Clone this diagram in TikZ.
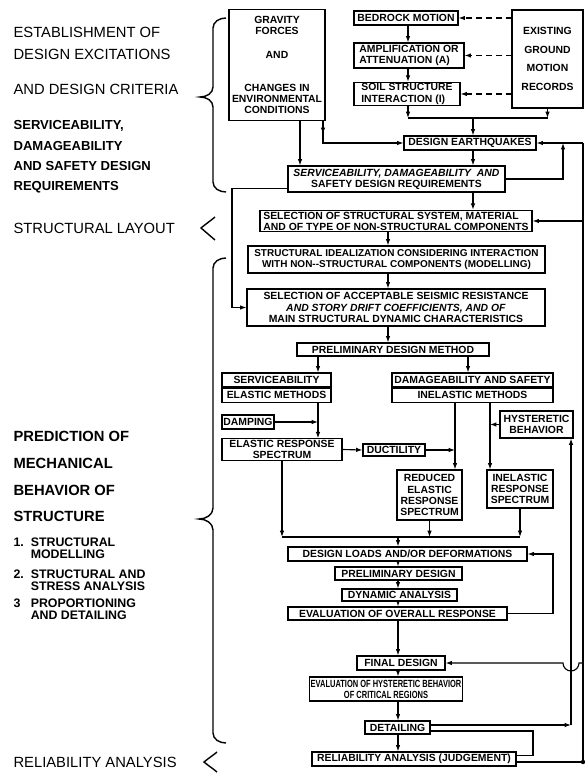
\documentclass[tikz,border=0pt]{standalone}
\usepackage{fontspec}
\newfontfamily\lettering{Liberation Sans}
\newfontfamily\narrowlettering{Liberation Sans}[FakeStretch=0.72]
\usetikzlibrary{positioning,arrows.meta}
\newdimen\px \px=0.025cm
\tikzset{wh/.style 2 args={minimum width=#1\px, minimum height=#2\px}}
\begin{document}
\begin{tikzpicture}[x=0.025cm, y=-0.025cm, line width=0.8pt, >={Latex[length=4.5pt,width=3.2pt]},
    box node/.style={draw, inner sep=1pt, align=center, font=\lettering\bfseries\fontsize{7.4}{7.9}\selectfont},
    side label/.style={anchor=west, inner sep=0pt, font=\lettering\fontsize{10.5}{12}\selectfont},
    req label/.style={side label, font=\lettering\bfseries\fontsize{9.3}{11}\selectfont},
    pred label/.style={side label, font=\lettering\bfseries\fontsize{10.5}{12}\selectfont},
    item label/.style={side label, align=left, font=\lettering\bfseries\fontsize{8.8}{8.5}\selectfont},
    brace/.style={line width=1pt},
    feed/.style={dash pattern=on 4pt off 3pt}]
\useasboundingbox (0,0) rectangle (584,774);

% left hand column
\node[side label] (est1) at (13,32) {ESTABLISHMENT OF};
\node[side label] (est2) at (13,54) {DESIGN EXCITATIONS};
\node[side label] (est3) at (13,89) {AND DESIGN CRITERIA};
\node[req label] (req1) at (13,126) {SERVICEABILITY,};
\node[req label] (req2) at (13,146) {DAMAGEABILITY};
\node[req label] (req3) at (13,166) {AND SAFETY DESIGN};
\node[req label] (req4) at (13,187) {REQUIREMENTS};
\node[side label] (lay) at (13,228) {STRUCTURAL LAYOUT};
\node[pred label] (pre1) at (13,436) {PREDICTION OF};
\node[pred label] (pre2) at (13,463) {MECHANICAL};
\node[pred label] (pre3) at (13,490) {BEHAVIOR OF};
\node[pred label] (pre4) at (13,516) {STRUCTURE};
\node[item label] (it1) at (13,548) {1.\ \ STRUCTURAL\\\hphantom{1.\ \ }MODELLING};
\node[item label] (it2) at (13,580) {2.\ \ STRUCTURAL AND\\\hphantom{2.\ \ }STRESS ANALYSIS};
\node[item label] (it3) at (13,609) {3\ \ \ PROPORTIONING\\\hphantom{3.\ \ }AND DETAILING};
\node[side label] (rlab) at (13,762) {RELIABILITY ANALYSIS};

\draw[brace] (226,18) to[out=180,in=90] (213,28) -- (213,87) to[out=-90,in=0] (200,97)
    to[out=0,in=90] (213,107) -- (213,182) to[out=-90,in=180] (226,192);
\draw[brace] (215,217) to[out=-140,in=40] (201,228) to[out=-40,in=140] (215,240);
\draw[brace] (226,258) to[out=180,in=90] (213,268) -- (213,508) to[out=-90,in=0] (199,519)
    to[out=0,in=90] (213,530) -- (213,733) to[out=-90,in=180] (226,743);
\draw[brace] (217,752) to[out=-140,in=40] (204,762) to[out=-40,in=140] (217,772);

% excitations
\node[box node, wh={96}{111}] (grav) at (277,65) {GRAVITY\\FORCES\\[9pt]AND\\[16pt]CHANGES IN\\ENVIRONMENTAL\\CONDITIONS};
\node[box node, wh={104}{14}] (bed) at (406,18) {BEDROCK MOTION};
\node[box node, wh={110}{25}, align=left] (amp) at (409,55.5) {AMPLIFICATION OR\\ATTENUATION (A)};
\node[box node, wh={106}{20}, align=left] (soil) at (407,94) {SOIL STRUCTURE\\INTERACTION (I)};
\node[box node, wh={71}{98}] (rec) at (547.5,59) {EXISTING\\[5.3pt]GROUND\\[5.3pt]MOTION\\[5.3pt]RECORDS};
\node[box node, wh={132}{14}] (deq) at (470,143) {DESIGN EARTHQUAKES};
\node[box node, wh={217}{26}] (sreq) at (396.5,179) {\textit{SERVICEABILITY, DAMAGEABILITY\ \ AND}\\SAFETY DESIGN REQUIREMENTS};

% layout
\node[box node, wh={272}{20}, align=left] (sys) at (396,221) {SELECTION OF STRUCTURAL SYSTEM, MATERIAL\\AND OF TYPE OF NON-STRUCTURAL COMPONENTS};
\node[box node, wh={297}{27}, font=\lettering\bfseries\fontsize{7.1}{7.9}\selectfont] (ideal) at (396.5,259.5) {STRUCTURAL IDEALIZATION CONSIDERING INTERACTION\\WITH NON--STRUCTURAL COMPONENTS (MODELLING)};
\node[box node, wh={298}{37}] (accept) at (396,307.5) {SELECTION OF ACCEPTABLE SEISMIC RESISTANCE\\\textit{AND STORY DRIFT COEFFICIENTS, AND OF}\\MAIN STRUCTURAL DYNAMIC CHARACTERISTICS};
\node[box node, wh={192}{13}] (pdm) at (393,349.5) {PRELIMINARY DESIGN METHOD};

% methods
\node[box node, wh={109}{14}] (serv) at (276.5,380) {SERVICEABILITY};
\node[box node, wh={109}{14}, below=0pt of serv] (elm) {ELASTIC METHODS};
\node[box node, wh={161}{14}] (dam) at (472.5,380) {DAMAGEABILITY AND SAFETY};
\node[box node, wh={161}{14}, below=0pt of dam] (inm) {INELASTIC METHODS};
\node[box node, wh={52}{14}] (damp) at (248,422) {DAMPING};
\node[box node, wh={73}{27}] (hyst) at (536.5,424.5) {HYSTERETIC\\BEHAVIOR};
\node[box node, wh={120}{21}] (ers) at (282,449.5) {ELASTIC RESPONSE\\SPECTRUM};
\node[box node, wh={62}{12}] (duct) at (394,450) {DUCTILITY};
\node[box node, wh={65}{50}] (red) at (429.5,495) {REDUCED\\ELASTIC\\RESPONSE\\SPECTRUM};
\node[box node, wh={66}{38}] (ine) at (520,489) {INELASTIC\\RESPONSE\\SPECTRUM};

% design
\node[box node, wh={239}{14}] (dl) at (407.5,554) {DESIGN LOADS AND/OR DEFORMATIONS};
\node[box node, wh={127}{13}] (pd) at (398.5,573.5) {PRELIMINARY DESIGN};
\node[box node, wh={115}{12}] (dyn) at (399.5,595) {DYNAMIC ANALYSIS};
\node[box node, wh={219}{13}] (ovr) at (397.5,613.5) {EVALUATION OF OVERALL RESPONSE};
\node[box node, wh={88}{14}] (fin) at (401,663) {FINAL DESIGN};
\node[box node, wh={148}{24}, font=\narrowlettering\bfseries\fontsize{7.4}{7.9}\selectfont] (evh) at (386,689) {EVALUATION OF HYSTERETIC BEHAVIOR\\OF CRITICAL REGIONS};
\node[box node, wh={65}{13}] (det) at (397.5,727.5) {DETAILING};
\node[box node, wh={204}{14}] (rel) at (414,759) {RELIABILITY ANALYSIS (JUDGEMENT)};

% line positions
\coordinate (kA) at (408,0);
\coordinate (sA) at (473,118);
\coordinate (sB) at (388,0);
\coordinate (sC) at (398,537);
\coordinate (gA) at (323,0);
\coordinate (gB) at (300,0);
\coordinate (lA) at (232,0);
\coordinate (hA) at (563,0);
\coordinate (rA) at (583,0);
\coordinate (cS) at (318,0);
\coordinate (cP) at (468,0);
\coordinate (cD) at (455,0);
\coordinate (cI) at (490,0);
\coordinate (fA) at (553,0);
\coordinate (vA) at (571,0);
\coordinate (dA) at (533,0);
\coordinate (dhi) at ([yshift=2.5\px]det.east);
\coordinate (dlo) at ([yshift=-3.5\px]det.east);
\coordinate (rhi) at ([yshift=3.5\px]rel.east);
\coordinate (rlo) at ([yshift=-3\px]rel.east);

\draw[->, feed] (rec.west |- bed.east) -- (bed.east);
\draw[->, feed] (rec.west |- amp.east) -- (amp.east);
\draw[->, feed] (rec.west |- soil.east) -- (soil.east);
\draw[->] (kA |- bed.south) -- (kA |- amp.north);
\draw[->] (kA |- amp.south) -- (kA |- soil.north);
\draw[->] (kA |- soil.south) -- (kA |- sA);
\draw[->] (rec.south) -- (rec.south |- sA);
\draw (kA |- sA) -- (rec.south |- sA);
\draw[->] (sA) -- (sA |- deq.north);

\draw[->] (grav.south -| gA) -- ++(0,13);
\draw[->] (grav.south -| gA) |- (deq.west);
\draw[->] (grav.south -| gB) -- (gB |- sreq.north);
\draw[->] (sA |- deq.south) -- (sA |- sreq.north);
\draw[->] (sA |- sreq.south) -- (sA |- sys.north);
\draw[->] (sB |- sys.south) -- (sB |- ideal.north);
\draw[->] (sB |- ideal.south) -- (sB |- accept.north);
\draw[->] (sB |- accept.south) -- (sB |- pdm.north);
\draw[->] ([yshift=4\px]sreq.south west) -| (lA |- accept.west) -- (accept.west);

\draw (rA |- deq.east) -- (rlo -| rA);
\draw[->] (rA |- deq.east) -- (deq.east);
\draw[->] (rA |- sys.east) -- (sys.east);
\draw[->] (sreq.east) -| (hA |- deq.east);
\draw[->] (rA |- fin.east) -- ([xshift=8\px]vA |- fin.east) arc[start angle=0, end angle=-180, radius=8\px] -- (fin.east);
\draw (rlo) -- (rlo -| rA);
\fill (rlo -| rA) circle[radius=2.2\px];

\draw[->] (cS |- pdm.south) -- (cS |- serv.north);
\draw[->] (cP |- pdm.south) -- (cP |- dam.north);
\draw[->] (cS |- elm.south) -- (cS |- ers.north);
\draw[->] (damp.east) -- (cS |- damp.east);
\draw[->] (ers.east) -- (duct.west);
\draw[->] (duct.east) -- (cD |- duct.east);
\draw[->] (cD |- inm.south) -- (cD |- red.north);
\draw[->] (cI |- inm.south) -- (cI |- ine.north);
\draw[->] (hyst.west) -- (cI |- hyst.west);

\draw[->] (ers.south) -- (ers.south |- sC);
\draw[->] (red.south) -- (red.south |- sC);
\draw[->] (ine.south) -- (ine.south |- sC);
\draw (ers.south |- sC) -- (ine.south |- sC);
\draw[->] (sC) -- (sC |- dl.north);

\draw[->] (sC |- dl.south) -- (sC |- pd.north);
\draw[->] (sC |- pd.south) -- (sC |- dyn.north);
\draw[->] (sC |- dyn.south) -- (sC |- ovr.north);
\draw[->] (sC |- ovr.south) -- (sC |- fin.north);
\draw[->] (sC |- fin.south) -- (sC |- evh.north);
\draw[->] (sC |- evh.south) -- (sC |- det.north);
\draw[->] (sC |- det.south) -- (sC |- rel.north);
\draw[->] (ovr.east) -| (fA |- dl.east) -- (dl.east);

\draw[->] (dhi) -- (dhi -| vA);
\draw[->] (dhi -| vA) -- (vA |- hyst.south);
\draw (dlo) -| (dA |- rhi) -- (rhi);
\end{tikzpicture}
\end{document}
